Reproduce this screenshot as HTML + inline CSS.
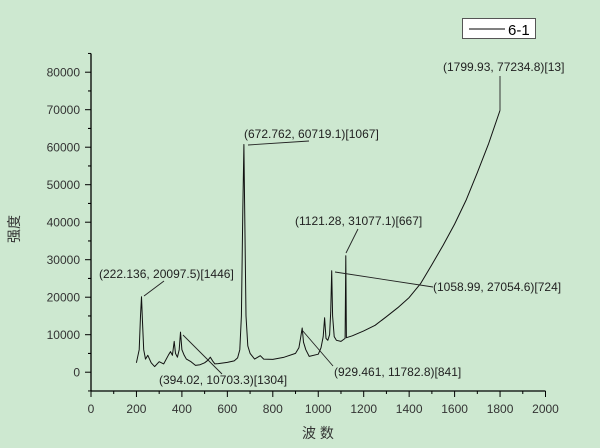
<!DOCTYPE html>
<html><head><meta charset="utf-8"><style>
html,body{margin:0;padding:0;background:#cde8d0;}
svg{display:block;font-family:"Liberation Sans","Noto Sans CJK SC",sans-serif;}
</style></head><body>
<svg id="chart" width="600" height="448" viewBox="0 0 600 448">
<rect x="0" y="0" width="600" height="448" fill="#cde8d0"/>
<g id="axes"></g>
<g id="series"></g>
<g id="annot"></g>
<text transform="translate(19,229) rotate(-90)" text-anchor="middle" font-size="14" fill="#333">强度</text>
<text x="318" y="438" text-anchor="middle" font-size="14" fill="#333">波 数</text>
<g>
<rect x="462.5" y="18.5" width="73" height="20" fill="#fff" stroke="#555" stroke-width="1"/>
<line x1="469" y1="29" x2="505" y2="29" stroke="#000" stroke-width="1"/>
<text x="508" y="35" font-size="15" fill="#000">6-1</text>
</g>
</svg>
<script>
const xTicks=[0,200,400,600,800,1000,1200,1400,1600,1800,2000];
const yTicks=[0,10000,20000,30000,40000,50000,60000,70000,80000];
const waveNumbers=[200,212,218,222.136,226,232,240,250,265,280,300,320,340,350,358,366,372,380,388,394.02,400,410,420,440,460,480,500,515,525,535,545,560,600,630,645,655,662,668,672.762,676,682,690,700,720,745,760,800,850,900,915,922,929.461,935,945,960,1000,1012,1022,1028,1034,1042,1050,1055,1058.99,1063,1070,1080,1100,1118,1121.28,1124,1150,1200,1250,1300,1350,1400,1450,1500,1550,1600,1650,1700,1750,1800];
const intensity=[2500,6000,15000,20097.5,14000,6000,3500,4500,2500,1500,2800,2200,4500,5500,4500,8200,5000,4000,6000,10703.3,6000,4500,3500,2800,1800,2000,2500,3200,4000,3000,2200,2300,2600,3000,3800,6000,15000,43000,60719.1,45000,15000,7000,5000,3500,4400,3500,3400,4000,5000,6500,9000,11782.8,8000,6000,4200,4800,6500,9500,14500,9000,8500,10000,16000,27054.6,15000,9500,8500,8200,9000,31077.1,9200,9700,11000,12500,14800,17200,19900,23600,28700,33900,39500,45800,53200,61000,69900];
const X0=91,X1=545.5,Y0=372.2,YPX=300/80000;
const xs=v=>X0+v*(X1-X0)/2000;
const ys=v=>Y0-v*YPX;
const NS="http://www.w3.org/2000/svg";
function mk(tag,attrs,parent){const e=document.createElementNS(NS,tag);for(const k in attrs)e.setAttribute(k,attrs[k]);parent.appendChild(e);return e;}
const ax=document.getElementById('axes');
const yAxis=mk('line',{x1:X0,y1:53.5,x2:X0,y2:391,stroke:'#000','stroke-width':1.3},ax);


const xAxis=mk('line',{x1:X0,y1:391,x2:X1,y2:391,stroke:'#000','stroke-width':1.3},ax);


xTicks.forEach((t,i)=>{
  const x=xs(t);
  const tk=mk('line',{x1:x,y1:391,x2:x,y2:397,stroke:'#000','stroke-width':1},ax);
  
  
  if(i<xTicks.length-1){const m=xs(t+100);const mt=mk('line',{x1:m,y1:391,x2:m,y2:394,stroke:'#000','stroke-width':1},ax);
  
  }
  const lb=mk('text',{x:x,y:413,'text-anchor':'middle','font-size':12,fill:'#333'},ax);lb.textContent=t;
  
  
});
yTicks.forEach(t=>{
  const y=ys(t);
  const tk=mk('line',{x1:X0-6,y1:y,x2:X0,y2:y,stroke:'#000','stroke-width':1},ax);
  
  
  [-5000,5000].forEach(d=>{const v=t+d;if(v<-5000||v>85000)return;const m=ys(v);const mt=mk('line',{x1:X0-3,y1:m,x2:X0,y2:m,stroke:'#000','stroke-width':1},ax);
  
  });
  const lb=mk('text',{x:X0-11,y:y+4.5,'text-anchor':'end','font-size':12,fill:'#333'},ax);lb.textContent=t;
  
  
});
const sg=document.getElementById('series');
const d=waveNumbers.map((w,i)=>(i?'L':'M')+xs(w).toFixed(1)+','+ys(intensity[i]).toFixed(1)).join(' ');
const path=mk('path',{d:d,fill:'none',stroke:'#111','stroke-width':1,'stroke-linejoin':'round'},sg);


const annotations=[
 {t:'(222.136, 20097.5)[1446]',tx:99,ty:278,lx1:164,ly1:281,lx2:144,ly2:296},
 {t:'(394.02, 10703.3)[1304]',tx:159,ty:384,lx1:183,ly1:335,lx2:222,ly2:374},
 {t:'(672.762, 60719.1)[1067]',tx:244,ty:138,lx1:248,ly1:145,lx2:309,ly2:141},
 {t:'(1121.28, 31077.1)[667]',tx:295,ty:225,lx1:358,ly1:229,lx2:346,ly2:253},
 {t:'(1058.99, 27054.6)[724]',tx:433,ty:291,lx1:335,ly1:272,lx2:433,ly2:287},
 {t:'(929.461, 11782.8)[841]',tx:334,ty:376,lx1:302,ly1:330,lx2:333,ly2:366},
 {t:'(1799.93, 77234.8)[13]',tx:443,ty:71,lx1:500,ly1:76,lx2:500,ly2:110}
];
const an=document.getElementById('annot');
annotations.forEach(a=>{
  const l=mk('line',{x1:a.lx1,y1:a.ly1,x2:a.lx2,y2:a.ly2,stroke:'#222','stroke-width':0.9},an);
  
  
  const tx=mk('text',{x:a.tx,y:a.ty,'font-size':12,fill:'#222'},an);tx.textContent=a.t;
  
  
});
</script>
</body></html>
